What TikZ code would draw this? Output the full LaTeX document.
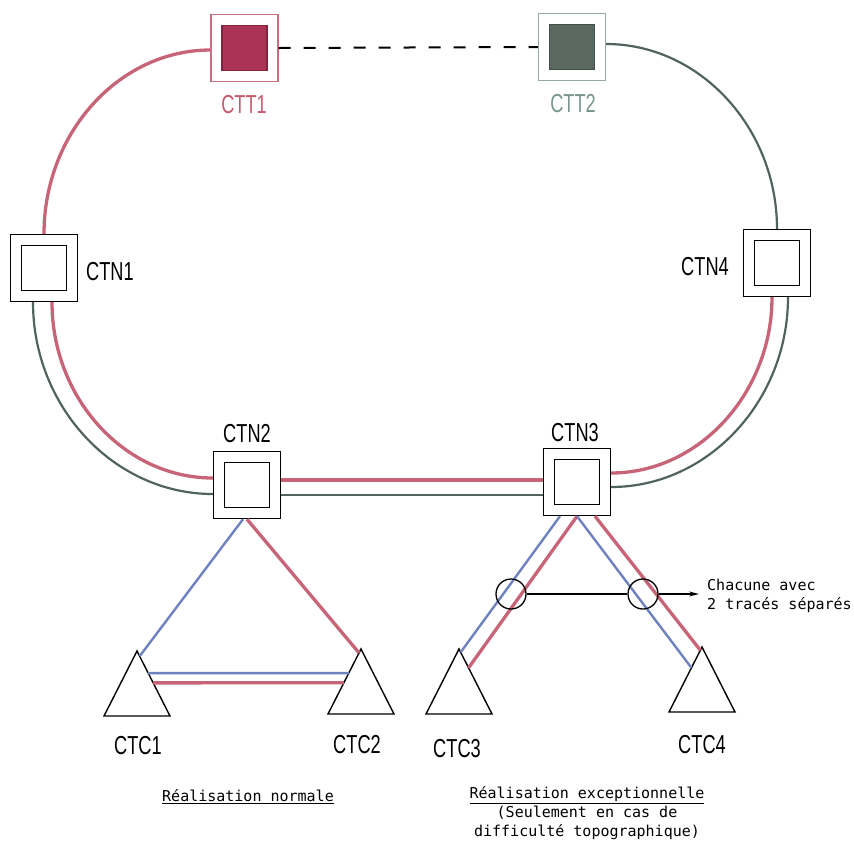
\documentclass[tikz,border=0pt]{standalone}
\usepackage{fontspec}
\setmainfont{Liberation Sans}
\newfontfamily\labfont[FakeStretch=0.7]{Liberation Sans}
\newfontfamily\plotmono{DejaVu Sans Mono}
\usetikzlibrary{calc,arrows.meta}
\definecolor{pinkline}{HTML}{C86478}
\definecolor{greenline}{HTML}{50645A}
\definecolor{blueline}{HTML}{6E82BE}
\definecolor{cttafill}{HTML}{AA3255}
\definecolor{cttaedge}{HTML}{C87082}
\definecolor{cttatext}{HTML}{C85A6E}
\definecolor{cttbfill}{HTML}{5A695F}
\definecolor{cttbedge}{HTML}{96AAA0}
\definecolor{cttbtext}{HTML}{7A968A}
\tikzset{
  outerbox/.style={draw, line width=1.4pt, minimum size=67pt, inner sep=0pt},
  innerbox/.style={draw, line width=1.4pt, minimum size=45pt, inner sep=0pt},
  lab/.style={font=\labfont\fontsize{26}{26}\selectfont, inner sep=0pt, text height=18.6pt, text depth=0pt},
  mono/.style={font=\plotmono\fontsize{15}{19}\selectfont, inner sep=0pt},
  pinkw/.style={draw=pinkline, line width=3.3pt},
  greenw/.style={draw=greenline, line width=2.2pt},
  bluew/.style={draw=blueline, line width=2.4pt},
  tri/.style={draw, line width=1.4pt, line join=miter},
  dashline/.style={draw=black, line width=2pt, dash pattern=on 12pt off 13pt},
  ring/.style={draw, circle, line width=1.3pt, minimum size=30pt, inner sep=0pt},
  ctc/.pic={\draw[tri] (0,-33) coordinate (-apex) -- (33,32) coordinate (-right) -- (-33,32) coordinate (-left) -- cycle;}
}
\begin{document}
\begin{tikzpicture}[x=1pt,y=-1pt]
\useasboundingbox[fill=white] (0,0) rectangle (854,847);

% CTT boxes
\node[outerbox, draw=cttaedge, line width=1.2pt] (CTT1) at (244.5,48) {};
\node[innerbox, fill=cttafill, draw=cttafill!75!black] (CTT1i) at (CTT1) {};
\node[lab, text=cttatext] (CTT1lab) at (244,104) {CTT1};
\node[outerbox, draw=cttbedge, line width=1.2pt] (CTT2) at (572,47) {};
\node[innerbox, fill=cttbfill, draw=cttbfill!75!black] (CTT2i) at (CTT2) {};
\node[lab, text=cttbtext] (CTT2lab) at (573,103) {CTT2};

% CTN boxes
\node[outerbox] (CTN1) at (44,268) {};
\node[innerbox] (CTN1i) at (CTN1) {};
\node[lab] (CTN1lab) at (110,271.5) {CTN1};
\node[outerbox] (CTN2) at (247,485) {};
\node[innerbox] (CTN2i) at (CTN2) {};
\node[lab] (CTN2lab) at (247,433.5) {CTN2};
\node[outerbox] (CTN3) at (577,482) {};
\node[innerbox] (CTN3i) at (CTN3) {};
\node[lab] (CTN3lab) at (575,432) {CTN3};
\node[outerbox] (CTN4) at (777,263) {};
\node[innerbox] (CTN4i) at (CTN4) {};
\node[lab] (CTN4lab) at (705,266.5) {CTN4};

% ring
\draw[dashline] (CTT1.east) -- (CTT2.west);
\draw[pinkw] ($(CTT1.west)+(0,2)$) .. controls (119,50) and (44,133) .. (CTN1.north);
\draw[greenw] ($(CTT2.east)+(0,-3)$) .. controls (700,44) and (777,128) .. (CTN4.north);
\draw[greenw] ($(CTN1.south)+(-11,0)$) .. controls (33,407) and (114,494) .. ($(CTN2.west)+(0,9)$);
\draw[pinkw] ($(CTN1.south)+(8,0)$) .. controls (52,398) and (124,478) .. ($(CTN2.west)+(0,-7)$);
\draw[pinkw] ($(CTN2.east)+(0,-5)$) -- ($(CTN3.west)+(0,-2)$);
\draw[greenw] ($(CTN2.east)+(0,10)$) -- ($(CTN3.west)+(0,13)$);
\draw[pinkw] ($(CTN3.east)+(0,-9)$) .. controls (699,473) and (772,393) .. ($(CTN4.south)+(-5,0)$);
\draw[greenw] ($(CTN3.east)+(0,5)$) .. controls (708,487) and (788,401) .. ($(CTN4.south)+(11,0)$);

% CTC triangles
\pic (CTC1) at (137,684) {ctc};
\pic (CTC2) at (361,682) {ctc};
\pic (CTC3) at (459,682) {ctc};
\pic (CTC4) at (702,680) {ctc};
\node[lab] (CTC1lab) at (138,745) {CTC1};
\node[lab] (CTC2lab) at (357,744) {CTC2};
\node[lab] (CTC3lab) at (457,748) {CTC3};
\node[lab] (CTC4lab) at (702,744) {CTC4};

% normal realisation
\draw[bluew] ($(CTN2.south)+(-4,0)$) -- ($(CTC1-apex)!0.08!(CTC1-right)$);
\draw[pinkw] (CTN2.south) -- ($(CTC2-apex)!0.06!(CTC2-left)$);
\draw[bluew] ($(CTC1-apex)!0.34!(CTC1-right)$) -- ($(CTC2-apex)!0.37!(CTC2-left)$);
\draw[pinkw] ($(CTC1-apex)!0.49!(CTC1-right)$) -- ($(CTC2-apex)!0.52!(CTC2-left)$);

% exceptional realisation
\draw[bluew] ($(CTN3.south)+(-17,0)$) -- ($(CTC3-apex)!0.05!(CTC3-right)$);
\draw[pinkw] (CTN3.south) -- ($(CTC3-apex)!0.29!(CTC3-right)$);
\draw[bluew] (CTN3.south) -- ($(CTC4-apex)!0.32!(CTC4-left)$);
\draw[pinkw] ($(CTN3.south)+(18,0)$) -- ($(CTC4-apex)!0.05!(CTC4-left)$);

\node[ring] (R1) at (511,594) {};
\node[ring] (R2) at (643,594) {};
\coordinate (arrowEnd) at (699,594);
\draw[line width=1.3pt] (R1) -- (R2);
\draw[line width=1.3pt, -{Stealth[length=10pt,width=5pt]}] (R2) -- (arrowEnd);
\node[mono, anchor=west, align=left] (note) at (707,596) {Chacune avec\\2 tracés séparés};

% captions
\node[mono] (capN) at (248,797) {\underline{Réalisation normale}};
\node[mono, align=center] (capE) at (587,813) {\underline{Réalisation exceptionnelle}\\(Seulement en cas de\\difficulté topographique)};
\end{tikzpicture}
\end{document}
